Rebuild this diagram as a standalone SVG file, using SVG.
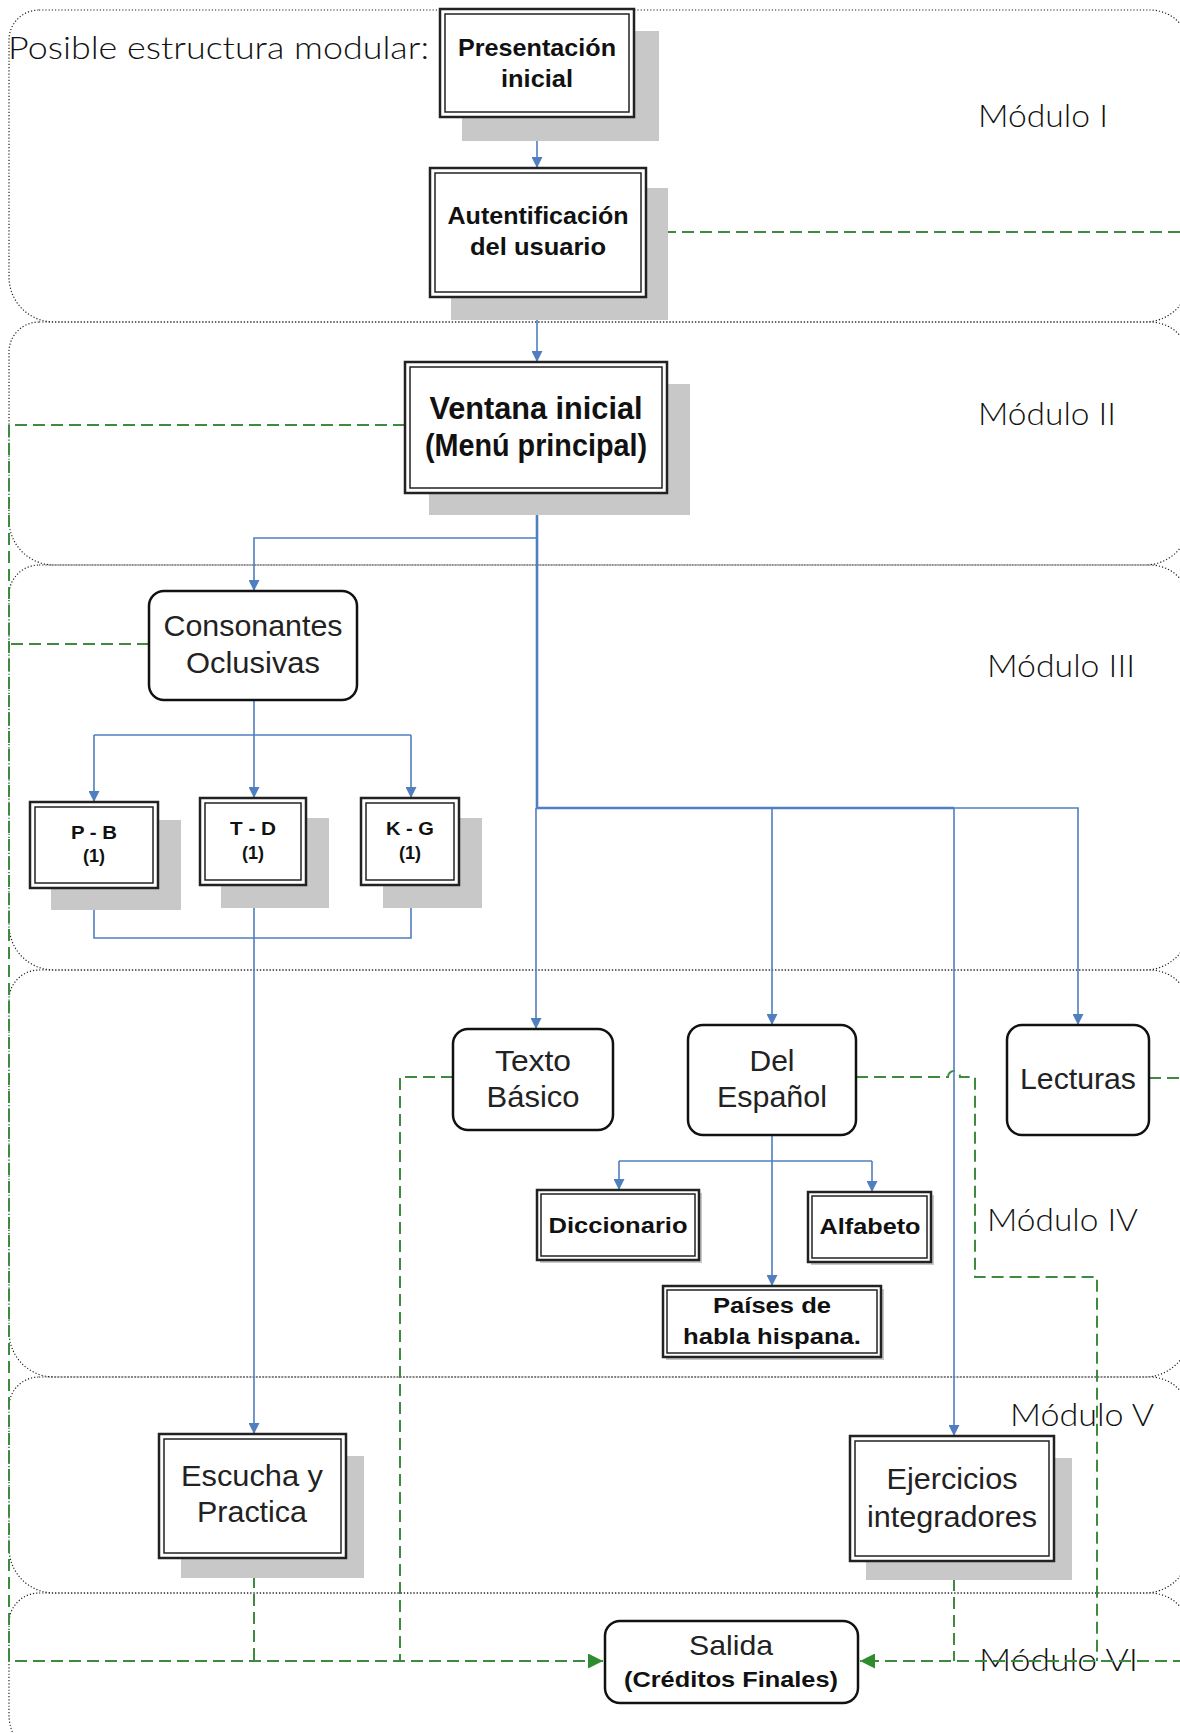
<svg xmlns="http://www.w3.org/2000/svg" width="1180" height="1733" viewBox="0 0 1180 1733">
<defs>
<style>
.mod{fill:none;stroke:#222;stroke-width:1.2;stroke-dasharray:1.2 2}
.ml{font-family:Lato,"Liberation Sans",sans-serif;font-weight:300;font-size:31px;fill:#111}
.sh{fill:#c8c8c8}
.ob{fill:#fff;stroke:#222;stroke-width:2.5}
.ib{fill:none;stroke:#222;stroke-width:1.5}
.rb{fill:#fff;stroke:#111;stroke-width:2.5}
.b{font-family:"Liberation Sans",Arial,sans-serif;font-weight:bold;fill:#111;text-anchor:middle}
.r{font-family:"Liberation Sans",Arial,sans-serif;fill:#222;text-anchor:middle}
.bl{fill:none;stroke:#4f7fbf;stroke-width:1.6}
.blt{fill:none;stroke:#4f7fbf;stroke-width:2.6}
.gr{fill:none;stroke:#3e8a3e;stroke-width:2;stroke-dasharray:12 6}
</style>
<marker id="ab" viewBox="0 0 10 10" refX="10" refY="5" markerWidth="13" markerHeight="11" markerUnits="userSpaceOnUse" orient="auto"><path d="M0,0 L10,5 L0,10 z" fill="#4f7fbf"/></marker>
<marker id="ag" viewBox="0 0 10 10" refX="10" refY="5" markerWidth="15" markerHeight="15" markerUnits="userSpaceOnUse" orient="auto"><path d="M0,0 L10,5 L0,10 z" fill="#2e8b2e"/></marker>
</defs>
<rect width="1180" height="1733" fill="#fff"/>

<g id="modules">
<path class="mod" d="M39,10 H1150 A40,40 0 0 1 1190,50 V277 A45,45 0 0 1 1145,322 H54 A45,45 0 0 1 9,277 V40 A30,30 0 0 1 39,10 Z"/>
<path class="mod" d="M39,322 H1150 A40,40 0 0 1 1190,362 V520 A45,45 0 0 1 1145,565 H54 A45,45 0 0 1 9,520 V352 A30,30 0 0 1 39,322 Z"/>
<path class="mod" d="M39,565 H1150 A40,40 0 0 1 1190,605 V925 A45,45 0 0 1 1145,970 H54 A45,45 0 0 1 9,925 V595 A30,30 0 0 1 39,565 Z"/>
<path class="mod" d="M39,970 H1150 A40,40 0 0 1 1190,1010 V1332 A45,45 0 0 1 1145,1377 H54 A45,45 0 0 1 9,1332 V1000 A30,30 0 0 1 39,970 Z"/>
<path class="mod" d="M39,1377 H1150 A40,40 0 0 1 1190,1417 V1548 A45,45 0 0 1 1145,1593 H54 A45,45 0 0 1 9,1548 V1407 A30,30 0 0 1 39,1377 Z"/>
<path class="mod" d="M39,1593 H1150 A40,40 0 0 1 1190,1633 V1715 A45,45 0 0 1 1145,1760 H54 A45,45 0 0 1 9,1715 V1623 A30,30 0 0 1 39,1593 Z"/>
<text class="ml" x="8" y="59" font-size="34" textLength="421" lengthAdjust="spacingAndGlyphs">Posible estructura modular:</text>
<text class="ml" x="978" y="127" textLength="130" lengthAdjust="spacingAndGlyphs">Módulo I</text>
<text class="ml" x="978" y="425" textLength="138" lengthAdjust="spacingAndGlyphs">Módulo II</text>
<text class="ml" x="987" y="677" textLength="148" lengthAdjust="spacingAndGlyphs">Módulo III</text>
<text class="ml" x="987" y="1231" textLength="151" lengthAdjust="spacingAndGlyphs">Módulo IV</text>
<text class="ml" x="1010" y="1426" textLength="144" lengthAdjust="spacingAndGlyphs">Módulo V</text>
<text class="ml" x="979" y="1671" textLength="159" lengthAdjust="spacingAndGlyphs">Módulo VI</text>
</g>

<g id="connectors">
<path class="gr" d="M646,232 H1185"/>
<path class="gr" d="M405,425 H9 V1661 H603" marker-end="url(#ag)"/>
<path class="gr" d="M149,644 H9"/>
<path class="gr" d="M453,1077 H400 V1661"/>
<path class="gr" d="M254,1558 V1661"/>
<path class="gr" d="M856,1077 H948 A6,6 0 0 1 960,1077 H975 V1277 H1097 V1661"/>
<path class="gr" d="M1149,1078 H1185"/>
<path class="gr" d="M954,1561 V1661"/>
<path class="gr" d="M1185,1661 H860" marker-end="url(#ag)"/>

<path class="bl" d="M537,117 V168" marker-end="url(#ab)"/>
<path class="bl" d="M537,297 V362" marker-end="url(#ab)"/>
<path class="blt" d="M537,493 V808 H954"/>
<path class="bl" d="M537,538 H254 V591" marker-end="url(#ab)"/>
<path class="bl" d="M954,808 H1078 V1025" marker-end="url(#ab)"/>
<path class="bl" d="M536,808 V1029" marker-end="url(#ab)"/>
<path class="bl" d="M772,808 V1025" marker-end="url(#ab)"/>
<path class="bl" d="M954,808 V1436" marker-end="url(#ab)"/>
<path class="bl" d="M254,700 V798" marker-end="url(#ab)"/>
<path class="bl" d="M94,735 H411"/>
<path class="bl" d="M94,735 V802" marker-end="url(#ab)"/>
<path class="bl" d="M411,735 V798" marker-end="url(#ab)"/>
<path class="bl" d="M94,888 V938 H411 V885"/>
<path class="bl" d="M254,885 V1434" marker-end="url(#ab)"/>
<path class="bl" d="M772,1135 V1286" marker-end="url(#ab)"/>
<path class="bl" d="M619,1161 H872"/>
<path class="bl" d="M619,1161 V1190" marker-end="url(#ab)"/>
<path class="bl" d="M872,1161 V1192" marker-end="url(#ab)"/>
</g>

<g id="presentacion">
<rect class="sh" x="462" y="31" width="197" height="110"/>
<rect class="ob" x="440" y="9" width="194" height="108"/>
<rect class="ib" x="445" y="14" width="184" height="98"/>
<text class="b" x="537" y="56" font-size="24" textLength="158" lengthAdjust="spacingAndGlyphs">Presentación</text>
<text class="b" x="537" y="87" font-size="24" textLength="72" lengthAdjust="spacingAndGlyphs">inicial</text>
</g>

<g id="autentificacion">
<rect class="sh" x="451" y="188" width="217" height="132"/>
<rect class="ob" x="430" y="168" width="216" height="129"/>
<rect class="ib" x="435" y="173" width="206" height="119"/>
<text class="b" x="538" y="224" font-size="24" textLength="181" lengthAdjust="spacingAndGlyphs">Autentificación</text>
<text class="b" x="538" y="255" font-size="24" textLength="136" lengthAdjust="spacingAndGlyphs">del usuario</text>
</g>

<g id="ventana">
<rect class="sh" x="429" y="384" width="261" height="131"/>
<rect class="ob" x="405" y="362" width="262" height="131"/>
<rect class="ib" x="410" y="367" width="252" height="121"/>
<text class="b" x="536" y="419" font-size="31" textLength="213" lengthAdjust="spacingAndGlyphs">Ventana inicial</text>
<text class="b" x="536" y="456" font-size="31" textLength="222" lengthAdjust="spacingAndGlyphs">(Menú principal)</text>
</g>

<g id="consonantes">
<rect class="rb" x="149" y="591" width="208" height="109" rx="15"/>
<text class="r" x="253" y="636" font-size="30" textLength="179" lengthAdjust="spacingAndGlyphs">Consonantes</text>
<text class="r" x="253" y="673" font-size="30" textLength="134" lengthAdjust="spacingAndGlyphs">Oclusivas</text>
</g>

<g id="pb">
<rect class="sh" x="51" y="820" width="130" height="90"/>
<rect class="ob" x="30" y="802" width="128" height="86"/>
<rect class="ib" x="35" y="807" width="118" height="76"/>
<text class="b" x="94" y="839" font-size="18" textLength="46" lengthAdjust="spacingAndGlyphs">P - B</text>
<text class="b" x="94" y="862" font-size="18">(1)</text>
</g>

<g id="td">
<rect class="sh" x="221" y="818" width="108" height="90"/>
<rect class="ob" x="200" y="798" width="106" height="87"/>
<rect class="ib" x="205" y="803" width="96" height="77"/>
<text class="b" x="253" y="835" font-size="18" textLength="46" lengthAdjust="spacingAndGlyphs">T - D</text>
<text class="b" x="253" y="859" font-size="18">(1)</text>
</g>

<g id="kg">
<rect class="sh" x="383" y="818" width="99" height="90"/>
<rect class="ob" x="361" y="798" width="98" height="87"/>
<rect class="ib" x="366" y="803" width="88" height="77"/>
<text class="b" x="410" y="835" font-size="18" textLength="48" lengthAdjust="spacingAndGlyphs">K - G</text>
<text class="b" x="410" y="859" font-size="18">(1)</text>
</g>

<g id="texto">
<rect class="rb" x="453" y="1029" width="160" height="101" rx="15"/>
<text class="r" x="533" y="1071" font-size="30" textLength="76" lengthAdjust="spacingAndGlyphs">Texto</text>
<text class="r" x="533" y="1107" font-size="30" textLength="93" lengthAdjust="spacingAndGlyphs">Básico</text>
</g>

<g id="espanol">
<rect class="rb" x="688" y="1025" width="168" height="110" rx="15"/>
<text class="r" x="772" y="1071" font-size="30" textLength="45" lengthAdjust="spacingAndGlyphs">Del</text>
<text class="r" x="772" y="1107" font-size="30" textLength="110" lengthAdjust="spacingAndGlyphs">Español</text>
</g>

<g id="lecturas">
<rect class="rb" x="1007" y="1025" width="142" height="110" rx="15"/>
<text class="r" x="1078" y="1089" font-size="30" textLength="116" lengthAdjust="spacingAndGlyphs">Lecturas</text>
</g>

<g id="diccionario">
<rect class="sh" x="540" y="1193" width="162" height="70"/>
<rect class="ob" x="537" y="1190" width="162" height="70"/>
<rect class="ib" x="541" y="1194" width="154" height="62"/>
<text class="b" x="618" y="1233" font-size="22" textLength="139" lengthAdjust="spacingAndGlyphs">Diccionario</text>
</g>

<g id="alfabeto">
<rect class="sh" x="811" y="1195" width="123" height="70"/>
<rect class="ob" x="808" y="1192" width="123" height="70"/>
<rect class="ib" x="812" y="1196" width="115" height="62"/>
<text class="b" x="870" y="1234" font-size="22" textLength="101" lengthAdjust="spacingAndGlyphs">Alfabeto</text>
</g>

<g id="paises">
<rect class="sh" x="666" y="1289" width="218" height="71"/>
<rect class="ob" x="663" y="1286" width="218" height="71"/>
<rect class="ib" x="667" y="1290" width="210" height="63"/>
<text class="b" x="772" y="1313" font-size="22" textLength="118" lengthAdjust="spacingAndGlyphs">Países de</text>
<text class="b" x="772" y="1344" font-size="22" textLength="178" lengthAdjust="spacingAndGlyphs">habla hispana.</text>
</g>

<g id="escucha">
<rect class="sh" x="181" y="1456" width="183" height="122"/>
<rect class="ob" x="159" y="1434" width="187" height="124"/>
<rect class="ib" x="164" y="1439" width="177" height="114"/>
<text class="r" x="252" y="1486" font-size="30" textLength="142" lengthAdjust="spacingAndGlyphs">Escucha y</text>
<text class="r" x="252" y="1522" font-size="30" textLength="110" lengthAdjust="spacingAndGlyphs">Practica</text>
</g>

<g id="ejercicios">
<rect class="sh" x="866" y="1458" width="206" height="122"/>
<rect class="ob" x="850" y="1436" width="204" height="125"/>
<rect class="ib" x="855" y="1441" width="194" height="115"/>
<text class="r" x="952" y="1489" font-size="30" textLength="131" lengthAdjust="spacingAndGlyphs">Ejercicios</text>
<text class="r" x="952" y="1527" font-size="30" textLength="170" lengthAdjust="spacingAndGlyphs">integradores</text>
</g>

<g id="salida">
<rect class="rb" x="605" y="1621" width="253" height="82" rx="15"/>
<text class="r" x="731" y="1655" font-size="28" textLength="84" lengthAdjust="spacingAndGlyphs">Salida</text>
<text class="b" x="731" y="1687" font-size="22" textLength="214" lengthAdjust="spacingAndGlyphs">(Créditos Finales)</text>
</g>
</svg>
